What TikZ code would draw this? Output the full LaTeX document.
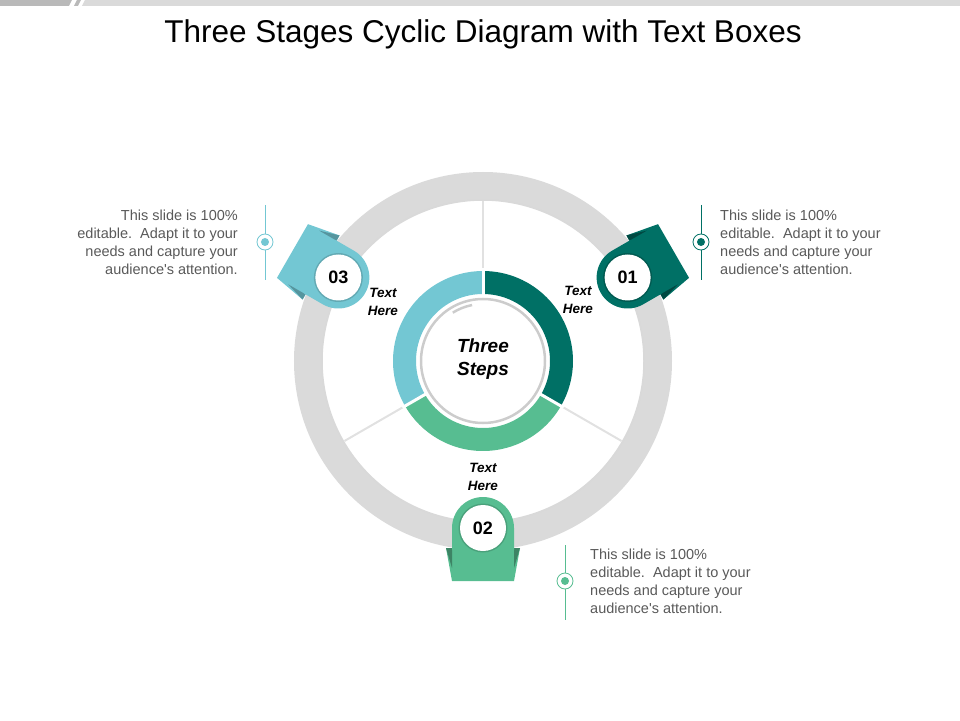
\documentclass[tikz,border=0pt]{standalone}
\usepackage{fontspec}
\setmainfont{Liberation Sans}
\definecolor{stepone}{RGB}{0,112,101}
\definecolor{steptwo}{RGB}{87,189,145}
\definecolor{stepthree}{RGB}{115,199,211}
\definecolor{ringgray}{RGB}{218,218,218}
\definecolor{bodytext}{RGB}{89,89,89}
\tikzset{
  note/.style={font=\fontsize{14.5}{18}\selectfont, text=bodytext, inner sep=0pt},
  stepcaption/.style={font=\fontsize{13.5}{17.5}\selectfont\bfseries\itshape, align=center, inner sep=0pt},
  stepnum/.style={circle, fill=white, minimum size=46pt, inner sep=0pt, font=\fontsize{18}{18}\selectfont\bfseries},
  spoke/.style={draw=ringgray!80, line width=2pt},
  gapline/.style={draw=white, line width=3pt},
}

\begin{document}
\begin{tikzpicture}[x=1pt, y=1pt]
  \useasboundingbox (-483,-359) rectangle (477,361);
  % top bar
  \fill[gray!55] (-483,361) -- (-411,361) -- (-414,355) -- (-483,355) -- cycle;
  \fill[gray!55] (-406,361) -- (-402,361) -- (-405,355) -- (-409,355) -- cycle;
  \fill[ringgray] (-398,361) -- (477,361) -- (477,355) -- (-401,355) -- cycle;
  \node (title) at (0,318) [anchor=base, font=\fontsize{31.5}{31.5}\selectfont] {Three Stages Cyclic Diagram with Text Boxes};

  % outer ring and spokes
  \fill[ringgray, even odd rule] (0,0) circle[radius=189] (0,0) circle[radius=161];
  \draw[gray!30, line width=1.5pt] (0,0) circle[radius=161];
  \coordinate (sa1) at (90:91);  \coordinate (sb1) at (90:160);
  \coordinate (sa2) at (-30:91); \coordinate (sb2) at (-30:160);
  \coordinate (sa3) at (210:91); \coordinate (sb3) at (210:160);
  \draw[spoke] (sa1) -- (sb1);
  \draw[spoke] (sa2) -- (sb2);
  \draw[spoke] (sa3) -- (sb3);

  % inner donut
  \fill[stepone] (90:90) arc[start angle=90, end angle=-30, radius=90] -- (-30:67) arc[start angle=-30, end angle=90, radius=67] -- cycle;
  \fill[steptwo] (-30:90) arc[start angle=-30, end angle=-150, radius=90] -- (210:67) arc[start angle=210, end angle=330, radius=67] -- cycle;
  \fill[stepthree] (210:90) arc[start angle=210, end angle=90, radius=90] -- (90:67) arc[start angle=90, end angle=210, radius=67] -- cycle;
  \coordinate (ga1) at (90:64);  \coordinate (gb1) at (90:93);
  \coordinate (ga2) at (-30:64); \coordinate (gb2) at (-30:93);
  \coordinate (ga3) at (210:64); \coordinate (gb3) at (210:93);
  \draw[gapline] (ga1) -- (gb1);
  \draw[gapline] (ga2) -- (gb2);
  \draw[gapline] (ga3) -- (gb3);
  \draw[gray!40, line width=2.5pt] (0,0) circle[radius=62];
  \draw[gray!40, line width=2.5pt] (101:57) arc[start angle=101, end angle=122, radius=57];
  \node (center) at (0,1.5) [align=center, font=\fontsize{19}{23}\selectfont\bfseries\itshape] {Three\\Steps};

  % badge 01
  \begin{scope}[shift={(30:167)}, rotate=-60]
    \fill[stepone] (-37,20) -- (37,20) -- (31,53) -- (-31,53) -- cycle;
    \fill[stepone!65!black] (-37,20) -- (-31,20) -- (-31,40) -- cycle;
    \fill[stepone!65!black] (37,20) -- (31,20) -- (31,40) -- cycle;
    \fill[stepone] (-31,22) -- (-31,0) arc[start angle=180, end angle=360, radius=31] -- (31,22) -- cycle;
    \fill[stepone!80!black] (0,0) circle[radius=24.5];
  \end{scope}
  \node[stepnum] (num1) at (30:167) {01};

  % badge 02
  \begin{scope}[shift={(270:167)}, rotate=180]
    \fill[steptwo] (-37,20) -- (37,20) -- (31,53) -- (-31,53) -- cycle;
    \fill[steptwo!70!black] (-37,20) -- (-31,20) -- (-31,40) -- cycle;
    \fill[steptwo!70!black] (37,20) -- (31,20) -- (31,40) -- cycle;
    \fill[steptwo] (-31,22) -- (-31,0) arc[start angle=180, end angle=360, radius=31] -- (31,22) -- cycle;
    \fill[steptwo!85!black] (0,0) circle[radius=24.5];
  \end{scope}
  \node[stepnum] (num2) at (270:167) {02};

  % badge 03
  \begin{scope}[shift={(150:167)}, rotate=60]
    \fill[stepthree] (-37,20) -- (37,20) -- (31,53) -- (-31,53) -- cycle;
    \fill[stepthree!75!black] (-37,20) -- (-31,20) -- (-31,40) -- cycle;
    \fill[stepthree!75!black] (37,20) -- (31,20) -- (31,40) -- cycle;
    \fill[stepthree] (-31,22) -- (-31,0) arc[start angle=180, end angle=360, radius=31] -- (31,22) -- cycle;
    \fill[stepthree!85!black] (0,0) circle[radius=24.5];
  \end{scope}
  \node[stepnum] (num3) at (150:167) {03};

  \node[stepcaption] (cap1) at (95,61) {Text\\Here};
  \node[stepcaption] (cap2) at (0,-116) {Text\\Here};
  \node[stepcaption] (cap3) at (-100,59) {Text\\Here};

  % side notes
  \coordinate (m1top) at (218,156); \coordinate (m1bot) at (218,81);
  \draw[stepone, line width=.8pt] (m1top) -- (m1bot);
  \node (dot1) at (218,119) [circle, draw=stepone, fill=white, line width=.8pt, minimum size=16pt, inner sep=0pt] {};
  \fill[stepone] (dot1) circle[radius=4];
  \node[note, anchor=north west, align=left] (note1) at (237,151) {This slide is 100\%\\editable.\ \ Adapt it to your\\needs and capture your\\audience\textquotesingle s attention.};

  \coordinate (m2top) at (82,-184); \coordinate (m2bot) at (82,-259);
  \draw[steptwo, line width=.8pt] (m2top) -- (m2bot);
  \node (dot2) at (82,-220) [circle, draw=steptwo, fill=white, line width=.8pt, minimum size=16pt, inner sep=0pt] {};
  \fill[steptwo] (dot2) circle[radius=4];
  \node[note, anchor=north west, align=left] (note2) at (107,-188) {This slide is 100\%\\editable.\ \ Adapt it to your\\needs and capture your\\audience\textquotesingle s attention.};

  \coordinate (m3top) at (-218,156); \coordinate (m3bot) at (-218,81);
  \draw[stepthree, line width=.8pt] (m3top) -- (m3bot);
  \node (dot3) at (-218,119) [circle, draw=stepthree, fill=white, line width=.8pt, minimum size=16pt, inner sep=0pt] {};
  \fill[stepthree] (dot3) circle[radius=4];
  \node[note, anchor=north east, align=right] (note3) at (-245,151) {This slide is 100\%\\editable.\ \ Adapt it to your\\needs and capture your\\audience\textquotesingle s attention.};
\end{tikzpicture}
\end{document}
